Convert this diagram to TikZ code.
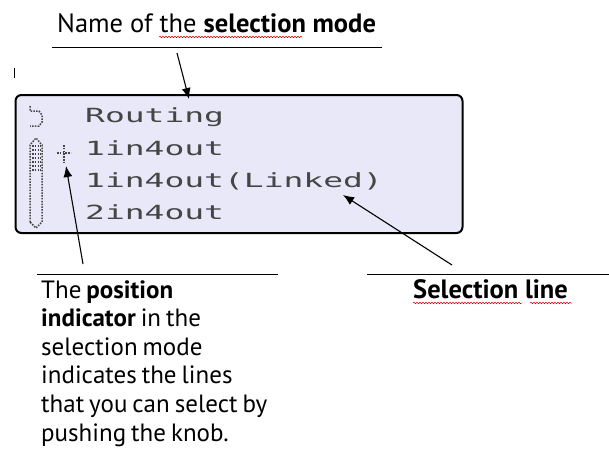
\documentclass[tikz,border=0pt]{standalone}
\usepackage{fontspec}
\setmainfont{PT Sans}
\newfontfamily\lcdfont[FakeStretch=1.69]{DejaVu Sans Mono}
\usetikzlibrary{arrows.meta,decorations.pathmorphing}
\definecolor{lcdback}{HTML}{E8E8F8}
\definecolor{lcdtext}{HTML}{454545}
\newcommand\tightwords{\fontsize{25}{28.6}\selectfont\spaceskip=0.2em\relax}
\begin{document}
\begin{tikzpicture}[x=1pt,y=-1pt]
    \useasboundingbox (0,0) rectangle (609,456);
    \tikzset{
        lcdline/.style={anchor=base west,inner sep=0pt,text=lcdtext,font=\lcdfont\fontsize{19.5}{20}\selectfont},
        note/.style={anchor=base west,inner sep=0pt,align=left,font=\fontsize{26.5}{28.6}\selectfont},
        tightnote/.style={note,font=\tightwords},
        pointer/.style={line width=1.1pt,-{Latex[length=11pt,width=9pt]}},
        rule/.style={line width=0.9pt},
        dots/.style={draw=lcdtext,line width=1.5pt,dash pattern=on 1.5pt off 1.3pt},
        spell/.style={red!80!black,line width=0.5pt,decorate,decoration={snake,amplitude=0.8pt,segment length=3pt}}
    }
    % title above the display
    \node[note] (title) at (57,32) {Name of the \textbf{selection mode}};
    \draw[rule] (52,47) -- (382,47);
    \draw[spell] (159,37) -- (302,37);
    \draw[line width=0.8pt] (14,68) -- (14,78);

    % the display
    \node[draw,line width=2pt,rounded corners=6pt,fill=lcdback,minimum width=447pt,minimum height=138pt,inner sep=0pt] (lcd) at (239,164) {};
    \node[lcdline] (routing) at (85,122) {Routing};
    \node[lcdline] (onefour) at (85,155) {1in4out};
    \node[lcdline] (linked) at (85,187) {1in4out(Linked)};
    \node[lcdline] (twofour) at (85,219) {2in4out};

    % icons on the left of the display
    \draw[dots] (30,106) -- (30,111) -- (39,111) -- (42,115) -- (42,122) -- (39,126) -- (30,126);
    \draw[dots] (30,222) -- (30,145) -- (36,138) -- (42,145) -- (42,222) -- (36,228) -- cycle;
    \foreach \y in {146,150,...,170}
        \draw[dots] (32,\y) -- (41,\y);
    \draw[dots] (57,153) -- (71,153);
    \draw[dots] (64,145) -- (64,162);

    % notes below
    \draw[rule] (37,274) -- (278,274);
    \draw[rule] (367,274) -- (609,274);
    \node[tightnote] (posnote) at (41,441) {The \textbf{position}\\\textbf{indicator} in the\\selection mode\\indicates the lines\\that you can select by\\pushing the knob.};
    \node[note] (selnote) at (413,298) {\textbf{Selection line}};
    \draw[spell] (413,303) -- (522,303);
    \draw[spell] (530,303) -- (572,303);

    % pointers
    \coordinate (modefoot) at (177,53);
    \coordinate (modetip) at (189,99);
    \coordinate (posfoot) at (83,264);
    \coordinate (postip) at (66,166);
    \coordinate (selfoot) at (452,265);
    \coordinate (seltip) at (343,195);
    \draw[pointer] (modefoot) -- (modetip);
    \draw[pointer] (posfoot) -- (postip);
    \draw[pointer] (selfoot) -- (seltip);
\end{tikzpicture}
\end{document}
